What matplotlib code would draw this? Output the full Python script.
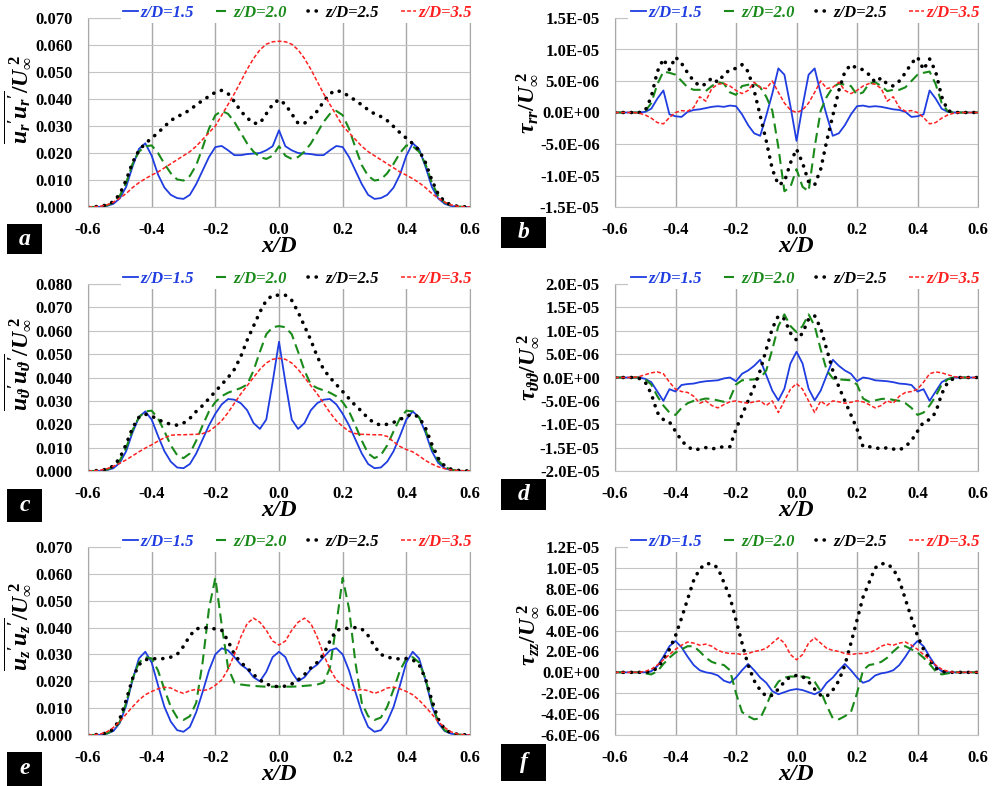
import numpy as np
import matplotlib
matplotlib.use('Agg')
import matplotlib.pyplot as plt
from matplotlib.patches import Rectangle
from matplotlib.ticker import FuncFormatter

plt.rcParams['font.family'] = 'Liberation Serif'
plt.rcParams['font.weight'] = 'bold'
plt.rcParams['mathtext.fontset'] = 'custom'
plt.rcParams['mathtext.rm'] = 'Liberation Serif:bold'
plt.rcParams['mathtext.it'] = 'Liberation Serif:italic:bold'
plt.rcParams['mathtext.bf'] = 'Liberation Serif:bold'

# sampling positions x/D (read every 0.02)
x_D = np.linspace(-0.6, 0.6, 61)
series_labels = ['z/D=1.5', 'z/D=2.0', 'z/D=2.5', 'z/D=3.5']

# --- normal stresses u'u'/Uinf^2, in units of 1e-3 ---
ur_15 = [0, 0, 0.1, 0.4, 1.2, 3.2, 7.5, 15.0, 21.5, 23.6, 19.0, 12.0, 7.2, 4.5, 3.3, 3.0, 4.5, 8.5, 13.5, 18.5, 22.2, 22.6, 21.0, 19.2, 19.2, 19.6, 19.8, 20.0, 21.0, 22.5, 28.4,
         22.5, 21.0, 20.0, 19.8, 19.6, 19.2, 19.2, 21.0, 22.6, 22.2, 18.5, 13.5, 8.5, 4.5, 3.0, 3.3, 4.5, 7.2, 12.0, 19.0, 23.6, 21.5, 15.0, 7.5, 3.2, 1.2, 0.4, 0.1, 0, 0]
ur_20 = [0, 0, 0.2, 0.6, 1.7, 4.2, 9.0, 16.0, 20.5, 22.5, 22.8, 20.0, 16.0, 12.5, 10.2, 9.8, 11.5, 15.5, 22.0, 29.0, 34.0, 35.6, 34.5, 31.5, 27.5, 23.5, 20.5, 18.5, 17.8, 19.0, 22.5,
         19.0, 17.8, 18.5, 20.5, 23.5, 27.5, 31.5, 34.5, 35.6, 34.0, 29.0, 22.0, 15.5, 11.5, 9.8, 10.2, 12.5, 16.0, 20.0, 22.8, 22.5, 20.5, 16.0, 9.0, 4.2, 1.7, 0.6, 0.2, 0, 0]
ur_25 = [0, 0.1, 0.3, 0.8, 2.0, 4.8, 10.0, 16.5, 21.0, 23.5, 25.5, 27.5, 29.8, 32.0, 33.5, 34.5, 36.0, 37.8, 39.5, 41.0, 42.5, 43.2, 42.0, 39.0, 35.5, 33.0, 31.0, 31.0, 34.5, 38.0, 39.8,
         38.0, 34.5, 31.0, 31.0, 33.0, 35.5, 39.0, 42.0, 43.2, 42.5, 41.0, 39.5, 37.8, 36.0, 34.5, 33.5, 32.0, 29.8, 27.5, 25.5, 23.5, 21.0, 16.5, 10.0, 4.8, 2.0, 0.8, 0.3, 0.1, 0]
ur_35 = [0, 0.1, 0.3, 0.8, 1.8, 3.3, 5.0, 7.2, 9.0, 10.5, 11.8, 13.0, 14.5, 16.0, 17.5, 19.0, 20.5, 22.5, 25.0, 27.5, 30.0, 34.0, 38.0, 42.0, 46.5, 51.0, 55.0, 58.2, 60.3, 61.2, 61.4,
         61.2, 60.3, 58.2, 55.0, 51.0, 46.5, 42.0, 38.0, 34.0, 30.0, 27.5, 25.0, 22.5, 20.5, 19.0, 17.5, 16.0, 14.5, 13.0, 11.8, 10.5, 9.0, 7.2, 5.0, 3.3, 1.8, 0.8, 0.3, 0.1, 0]

ut_15 = [0, 0, 0.1, 0.4, 1.2, 3.5, 8.5, 16.5, 23.0, 25.5, 22.0, 15.0, 8.5, 4.0, 1.5, 1.2, 3.0, 7.5, 13.5, 19.5, 24.5, 28.5, 30.8, 30.5, 29.0, 26.0, 20.5, 18.0, 22.0, 38.0, 55.3,
         38.0, 22.0, 18.0, 20.5, 26.0, 29.0, 30.5, 30.8, 28.5, 24.5, 19.5, 13.5, 7.5, 3.0, 1.2, 1.5, 4.0, 8.5, 15.0, 22.0, 25.5, 23.0, 16.5, 8.5, 3.5, 1.2, 0.4, 0.1, 0, 0]
ut_20 = [0, 0, 0.2, 0.6, 1.8, 4.5, 10.0, 17.5, 23.0, 25.5, 25.8, 22.5, 17.0, 11.0, 6.8, 5.5, 7.5, 13.0, 19.5, 25.5, 29.5, 32.0, 33.5, 34.5, 35.5, 37.0, 43.0, 51.0, 58.5, 61.5, 62.0,
         61.5, 58.5, 51.0, 43.0, 37.0, 35.5, 34.5, 33.5, 32.0, 29.5, 25.5, 19.5, 13.0, 7.5, 5.5, 6.8, 11.0, 17.0, 22.5, 25.8, 25.5, 23.0, 17.5, 10.0, 4.5, 1.8, 0.6, 0.2, 0, 0]
ut_25 = [0, 0.1, 0.3, 0.8, 2.2, 5.5, 11.5, 18.5, 23.0, 24.3, 23.5, 22.0, 20.8, 20.0, 19.6, 20.5, 22.5, 25.5, 28.0, 31.0, 34.0, 37.0, 40.0, 43.5, 49.0, 56.0, 62.0, 68.0, 73.0, 75.2, 75.2,
         75.2, 73.0, 68.0, 62.0, 56.0, 49.0, 43.5, 40.0, 37.0, 34.0, 31.0, 28.0, 25.5, 22.5, 20.5, 19.6, 20.0, 20.8, 22.0, 23.5, 24.3, 23.0, 18.5, 11.5, 5.5, 2.2, 0.8, 0.3, 0.1, 0]
ut_35 = [0, 0.1, 0.4, 1.0, 2.0, 3.3, 4.8, 6.5, 8.2, 9.8, 11.2, 12.8, 14.2, 15.3, 15.5, 15.5, 15.6, 15.7, 16.0, 17.0, 19.0, 21.5, 25.0, 29.0, 33.0, 36.5, 40.0, 43.5, 46.2, 47.8, 48.2,
         47.8, 46.2, 43.5, 40.0, 36.5, 33.0, 29.0, 25.0, 21.5, 19.0, 17.0, 16.0, 15.7, 15.6, 15.5, 15.5, 14.8, 12.5, 10.5, 9.2, 8.2, 6.5, 4.5, 3.0, 1.8, 1.0, 0.5, 0.2, 0.1, 0]

uz_15 = [0, 0, 0.1, 0.5, 1.5, 4.5, 11.0, 20.5, 28.5, 31.0, 27.0, 18.5, 10.5, 5.0, 1.8, 1.2, 3.0, 8.5, 16.0, 24.0, 30.0, 32.3, 31.5, 29.0, 26.2, 24.5, 21.5, 20.0, 23.5, 29.0, 31.0,
         29.0, 23.5, 20.0, 21.5, 24.5, 26.2, 29.0, 31.5, 32.3, 30.0, 24.0, 16.0, 8.5, 3.0, 1.2, 1.8, 5.0, 10.5, 18.5, 27.0, 31.0, 28.5, 20.5, 11.0, 4.5, 1.5, 0.5, 0.1, 0, 0]
uz_20 = [0, 0, 0.2, 0.6, 1.8, 5.0, 12.0, 21.0, 27.0, 29.0, 28.5, 24.0, 17.0, 10.5, 6.5, 5.6, 7.0, 12.0, 27.0, 47.0, 58.5, 41.0, 25.0, 19.5, 18.8, 18.5, 18.3, 18.1, 18.0, 18.0, 18.0,
         18.0, 18.0, 18.1, 18.3, 18.5, 18.8, 19.5, 25.0, 41.0, 58.5, 47.0, 27.0, 12.0, 7.0, 5.6, 6.5, 10.5, 17.0, 24.0, 28.5, 29.0, 27.0, 21.0, 12.0, 5.0, 1.8, 0.6, 0.2, 0, 0]
uz_25 = [0, 0.1, 0.3, 0.8, 2.2, 6.0, 13.0, 21.0, 26.2, 28.0, 28.5, 28.3, 28.5, 29.0, 30.0, 33.0, 37.0, 39.5, 40.0, 39.8, 39.5, 39.0, 35.0, 30.0, 27.0, 25.0, 22.5, 20.5, 19.0, 18.2, 18.0,
         18.2, 19.0, 20.5, 22.5, 25.0, 27.0, 30.0, 35.0, 39.0, 39.5, 39.8, 40.0, 39.5, 37.0, 33.0, 30.0, 29.0, 28.5, 28.3, 28.5, 28.0, 26.2, 21.0, 13.0, 6.0, 2.2, 0.8, 0.3, 0.1, 0]
uz_35 = [0, 0.1, 0.4, 1.2, 2.8, 5.0, 7.8, 10.5, 13.0, 15.0, 16.2, 17.2, 17.8, 17.5, 16.3, 15.5, 16.5, 17.0, 16.5, 17.0, 18.5, 20.5, 24.5, 30.0, 36.5, 41.5, 43.5, 42.0, 39.0, 35.0, 33.5,
         35.0, 39.0, 42.0, 43.5, 41.5, 36.5, 30.0, 24.5, 20.5, 18.5, 17.0, 16.5, 17.0, 16.5, 15.5, 16.3, 17.5, 17.8, 17.2, 16.2, 15.0, 13.0, 10.5, 7.8, 5.0, 2.8, 1.2, 0.4, 0.1, 0]

# --- stresses tau/Uinf^2, in units of 1e-6 ---
trr_15 = [0, 0, 0, 0, 0, 0.1, 0.6, 2.2, 3.5, -0.3, -0.6, -0.7, 0.1, 0.4, 0.5, 0.7, 0.9, 1.0, 0.9, 1.1, 1.0, -0.3, -2.0, -3.3, -3.7, -0.5, 3.0, 7.0, 6.0, 1.0, -4.5,
          1.0, 6.0, 7.0, 3.0, -0.5, -3.7, -3.3, -2.0, -0.3, 1.0, 1.1, 0.9, 1.0, 0.9, 0.7, 0.5, 0.4, 0.1, -0.7, -0.6, -0.3, 3.5, 2.2, 0.6, 0.1, 0, 0, 0, 0, 0]
trr_20 = [0, 0, 0, 0, 0, 0.2, 1.5, 4.5, 6.5, 6.3, 6.0, 5.0, 4.0, 3.6, 3.6, 3.4, 4.2, 4.8, 4.6, 3.2, 2.8, 4.2, 4.4, 4.6, 4.0, 2.5, 0.3, -5.5, -12.5, -11.8, -9.0,
          -11.8, -12.5, -5.5, 0.3, 2.5, 4.0, 4.6, 4.4, 4.2, 2.8, 3.2, 4.6, 4.8, 4.2, 3.4, 3.6, 3.6, 4.0, 5.0, 6.0, 6.3, 6.5, 4.5, 1.5, 0.2, 0, 0, 0, 0, 0]
trr_25 = [0, 0, 0, 0, 0, 0.3, 2.5, 6.5, 8.5, 6.8, 8.8, 7.8, 6.3, 5.0, 4.2, 4.5, 5.5, 4.8, 6.0, 6.8, 7.0, 7.6, 6.5, 3.5, -0.5, -4.5, -9.0, -11.5, -11.0, -8.0, -5.8,
          -8.0, -11.0, -11.5, -9.0, -4.5, -0.5, 3.5, 6.5, 7.6, 7.0, 6.8, 6.0, 4.8, 5.5, 4.5, 4.2, 5.0, 6.3, 7.8, 8.8, 6.8, 8.5, 6.5, 2.5, 0.3, 0, 0, 0, 0, 0]
trr_35 = [0, 0, 0, 0, -0.1, -0.4, -0.9, -1.6, -1.8, -0.8, 0.0, 0.3, 0.2, 0.8, 2.5, 1.8, 3.8, 4.5, 4.6, 4.2, 3.5, 3.0, 3.5, 4.8, 4.0, 3.8, 5.0, 3.2, 1.5, 0.4, 0.0,
          0.4, 1.5, 3.2, 5.0, 3.8, 4.0, 4.8, 3.5, 3.0, 3.5, 4.2, 4.6, 4.5, 3.8, 1.8, 2.5, 0.8, 0.2, 0.3, 0.0, -0.8, -1.8, -1.6, -0.9, -0.4, -0.1, 0, 0, 0, 0]

ttt_15 = [0, 0, 0, 0, 0, -0.3, -1.0, -3.0, -5.0, -2.5, -3.0, -1.6, -1.4, -1.3, -1.0, -0.8, -0.7, -0.6, -0.2, 0.0, -0.8, 0.8, 1.5, 2.5, 3.8, 0.5, -2.8, -4.9, -2.4, 3.0, 5.5,
          3.0, -2.4, -4.9, -2.8, 0.5, 3.8, 2.5, 1.5, 0.8, -0.8, 0.0, -0.2, -0.6, -0.7, -0.8, -1.0, -1.3, -1.4, -1.6, -3.0, -2.5, -5.0, -3.0, -1.0, -0.3, 0, 0, 0, 0, 0]
ttt_20 = [0, 0, 0, 0, 0, -0.4, -1.5, -4.0, -6.0, -7.5, -8.0, -6.5, -5.5, -5.0, -4.8, -4.5, -4.6, -4.9, -5.2, -4.5, -1.5, -0.6, -0.5, -0.4, -0.2, 1.5, 6.0, 11.0, 13.5, 11.0, 9.7,
          11.0, 13.5, 11.0, 6.0, 1.5, -0.2, -0.4, -0.5, -0.6, -1.5, -4.5, -5.2, -4.9, -4.6, -4.5, -4.8, -5.0, -5.5, -6.5, -8.0, -7.5, -6.0, -4.0, -1.5, -0.4, 0, 0, 0, 0, 0]
ttt_25 = [0, 0, 0, 0, -0.2, -1.0, -3.5, -7.5, -9.0, -9.5, -11.5, -13.5, -14.8, -15.5, -15.3, -15.0, -15.3, -15.0, -14.8, -14.8, -11.0, -8.0, -5.0, -2.0, 1.5, 6.0, 10.5, 13.2, 12.5, 9.5, 8.0,
          9.5, 12.5, 13.2, 10.5, 6.0, 1.5, -2.0, -5.0, -8.0, -11.0, -14.8, -14.8, -15.0, -15.3, -15.0, -15.3, -15.5, -14.8, -13.5, -11.5, -9.5, -9.0, -7.5, -3.5, -1.0, -0.2, 0, 0, 0, 0]
ttt_35 = [0, 0, 0, 0, 0.2, 0.6, 1.0, 1.2, 0.8, -1.0, -2.5, -3.0, -3.2, -4.0, -5.5, -5.0, -6.0, -6.5, -5.8, -5.2, -5.0, -5.3, -5.5, -5.2, -5.0, -6.0, -5.0, -7.5, -5.0, -2.5, -1.3,
          -2.5, -5.0, -7.5, -5.0, -6.0, -5.0, -5.2, -5.5, -5.3, -5.0, -5.2, -5.8, -6.5, -6.0, -5.0, -5.5, -4.0, -3.2, -3.0, -2.5, -1.0, 0.8, 1.2, 1.0, 0.6, 0.2, 0, 0, 0, 0]

tzz_15 = [0, 0, 0, 0, 0, 0, 0.1, 0.6, 1.5, 2.5, 3.0, 2.4, 1.5, 0.7, 0.2, 0.0, -0.1, -0.3, -0.8, -1.0, -0.5, 0.2, 0.8, 0.2, -0.5, -1.0, -1.8, -2.1, -1.9, -1.7, -1.6,
          -1.7, -1.9, -2.1, -1.8, -1.0, -0.5, 0.2, 0.8, 0.2, -0.5, -1.0, -0.8, -0.3, -0.1, 0.0, 0.2, 0.7, 1.5, 2.4, 3.0, 2.5, 1.5, 0.6, 0.1, 0, 0, 0, 0, 0, 0]
tzz_20 = [0, 0, 0, 0, 0, -0.1, -0.2, 0.1, 0.8, 1.4, 1.9, 2.2, 2.5, 2.5, 2.0, 1.4, 1.0, 0.8, 0.7, 0.2, -2.0, -3.8, -4.2, -4.5, -4.4, -3.2, -1.8, -0.9, -0.5, -0.4, -0.4,
          -0.4, -0.5, -0.9, -1.8, -3.2, -4.4, -4.5, -4.2, -3.8, -2.0, 0.2, 0.7, 0.8, 1.0, 1.4, 2.0, 2.5, 2.5, 2.2, 1.9, 1.4, 0.8, 0.1, -0.2, -0.1, 0, 0, 0, 0, 0]
tzz_25 = [0, 0, 0, 0, 0, 0, 0.1, 0.4, 1.2, 2.2, 3.5, 5.2, 7.0, 8.8, 9.9, 10.4, 10.4, 10.0, 8.6, 7.2, 5.0, 2.8, 0.7, -0.8, -1.7, -2.3, -2.2, -1.6, -0.9, -0.4, -0.3,
          -0.4, -0.9, -1.6, -2.2, -2.3, -1.7, -0.8, 0.7, 2.8, 5.0, 7.2, 8.6, 10.0, 10.4, 10.4, 9.9, 8.8, 7.0, 5.2, 3.5, 2.2, 1.2, 0.4, 0.1, 0, 0, 0, 0, 0, 0]
tzz_35 = [0, 0, 0, 0, 0, 0.1, 0.3, 0.7, 1.2, 1.7, 2.2, 2.6, 2.9, 2.8, 2.6, 2.7, 2.5, 2.1, 1.9, 1.8, 1.8, 1.7, 1.8, 2.0, 2.1, 2.3, 2.8, 3.3, 2.8, 1.7, 1.2,
          1.7, 2.8, 3.3, 2.8, 2.3, 2.1, 2.0, 1.8, 1.7, 1.8, 1.8, 1.9, 2.1, 2.5, 2.7, 2.6, 2.8, 2.9, 2.6, 2.2, 1.7, 1.2, 0.7, 0.3, 0.1, 0, 0, 0, 0, 0]

# line styles for z/D = 1.5, 2.0, 2.5, 3.5
styles = [
    dict(color='#1f3de0', ls='-', lw=1.3),
    dict(color='#1a8a1a', ls=(0, (4.8, 2.6)), lw=1.5),
    dict(color='black', ls=(0, (0.05, 2.2)), lw=2.6, dash_capstyle='round'),
    dict(color='#ff2020', ls=(0, (2.6, 1.4)), lw=1.1),
]

W, H = 992, 786
fig = plt.figure(figsize=(W / 100, H / 100), dpi=100)


def px_rect(l, t, r, b):
    return [l / W, 1 - b / H, (r - l) / W, (b - t) / H]


def fmt_dec(v, pos):
    return f'{v:.3f}'


def fmt_exp(v, pos):
    if abs(v) < 1e-12:
        v = 0.0
    return f'{v:.1E}'


panels = [
    # letter, rect, data, unit, yticks, formatter, ylabel, ylabel pos, letter box
    ('a', (88, 18, 470, 207), [ur_15, ur_20, ur_25, ur_35], 1e-3, np.linspace(0, 0.07, 8), fmt_dec,
     r'$\overline{{u_r}^{\prime}{u_r}^{\prime}}/U_\infty^{\;2}$', (17, 99), (7, 224, 42, 254)),
    ('b', (615, 18, 978, 207), [trr_15, trr_20, trr_25, trr_35], 1e-6, np.linspace(-1.5e-5, 1.5e-5, 7), fmt_exp,
     r'$\tau_{rr}/U_\infty^{\;2}$', (527, 103), (501, 217, 546, 248)),
    ('c', (88, 284, 470, 471), [ut_15, ut_20, ut_25, ut_35], 1e-3, np.linspace(0, 0.08, 9), fmt_dec,
     r'$\overline{{u_\vartheta}^{\prime}{u_\vartheta}^{\prime}}/U_\infty^{\;2}$', (17, 364), (7, 489, 42, 522)),
    ('d', (615, 284, 978, 471), [ttt_15, ttt_20, ttt_25, ttt_35], 1e-6, np.linspace(-2e-5, 2e-5, 9), fmt_exp,
     r'$\tau_{\vartheta\vartheta}/U_\infty^{\;2}$', (528, 368), (501, 479, 546, 510)),
    ('e', (88, 547, 470, 735), [uz_15, uz_20, uz_25, uz_35], 1e-3, np.linspace(0, 0.07, 8), fmt_dec,
     r'$\overline{{u_z}^{\prime}{u_z}^{\prime}}/U_\infty^{\;2}$', (17, 626), (7, 752, 42, 786)),
    ('f', (615, 547, 978, 735), [tzz_15, tzz_20, tzz_25, tzz_35], 1e-6, np.linspace(-6e-6, 1.2e-5, 10), fmt_exp,
     r'$\tau_{zz}/U_\infty^{\;2}$', (528, 635), (501, 744, 546, 781)),
]

for letter, rect, data, unit, yticks, fmt, ylab, ylab_pos, box in panels:
    ax = fig.add_axes(px_rect(*rect))
    for vals, st, lab in zip(data, styles, series_labels):
        ax.plot(x_D, np.array(vals) * unit, label=lab, **st)
    ax.set_xlim(-0.6, 0.6)
    ax.set_ylim(yticks[0], yticks[-1])
    ax.set_xticks(np.linspace(-0.6, 0.6, 7))
    ax.set_yticks(yticks)
    ax.xaxis.set_major_formatter(FuncFormatter(lambda v, p: f'{v:.1f}'))
    ax.yaxis.set_major_formatter(FuncFormatter(fmt))
    ax.tick_params(length=0, labelsize=12, pad=11)
    ax.grid(axis='y', color='#c4c4c4', lw=0.8)
    ax.grid(axis='x', color='#a8a8a8', lw=1.0)
    ax.set_axisbelow(True)
    for side in ['left', 'right']:
        ax.spines[side].set_color('#a8a8a8')
    for side in ['top', 'bottom']:
        ax.spines[side].set_color('#c4c4c4')
    ax.legend(ncol=4, loc='center right', bbox_to_anchor=(1.012, 1.028),
              borderaxespad=0, borderpad=0.15, handlelength=0.9, handletextpad=0.15,
              columnspacing=1.3, frameon=True, fancybox=False, framealpha=1,
              edgecolor='none', labelcolor='linecolor',
              prop=dict(family='Liberation Serif', style='italic', weight='bold', size=12))
    # x and y labels
    fig.text((rect[0] + rect[2]) / 2 / W, 1 - (rect[3] + 40) / H, 'x/D', ha='center', va='center',
             fontsize=17, style='italic', weight='bold')
    fig.text(ylab_pos[0] / W, 1 - ylab_pos[1] / H, ylab, rotation=90, ha='center', va='center',
             fontsize=17)
    # panel letter box
    l, t, r, b = box
    fig.add_artist(Rectangle((l / W, 1 - b / H), (r - l) / W, (b - t) / H, transform=fig.transFigure,
                             facecolor='black', edgecolor='none'))
    fig.text((l + r) / 2 / W, 1 - (t + b) / 2 / H, letter, color='white', ha='center', va='center',
             fontsize=17, style='italic', weight='bold')

fig.savefig('out.png', dpi=100)
